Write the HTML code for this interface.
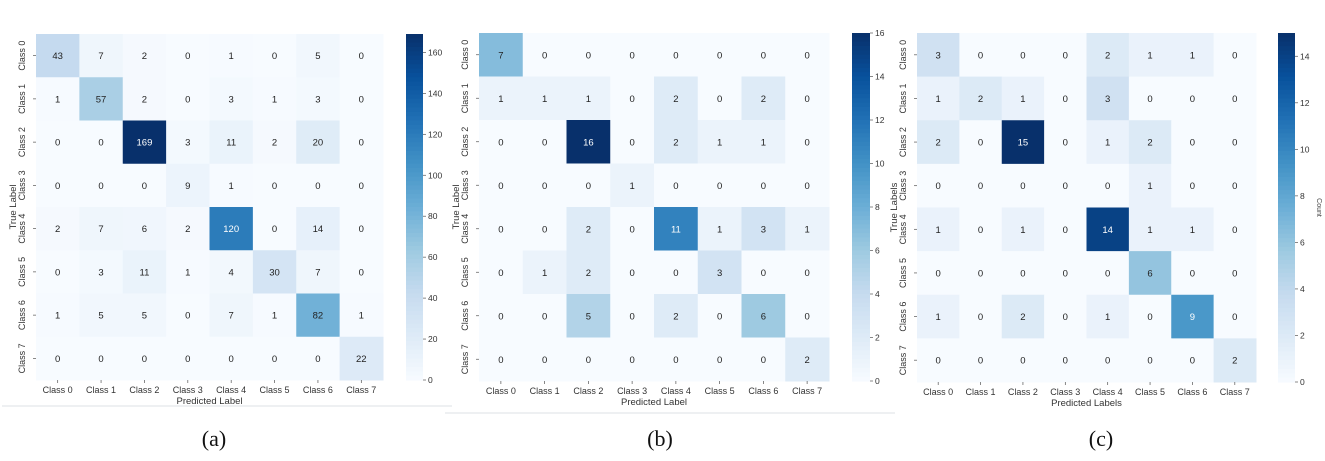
<!DOCTYPE html>
<html><head><meta charset="utf-8"><style>
body{margin:0;background:#fff;}
svg text{font-family:"Liberation Sans",sans-serif;}
svg text.cap{font-family:"Liberation Serif",serif;}
</style></head><body>
<svg id="fig" width="1325" height="456" viewBox="0 0 1325 456" xmlns="http://www.w3.org/2000/svg"></svg>
<script>
const classes=["Class 0","Class 1","Class 2","Class 3","Class 4","Class 5","Class 6","Class 7"];
const matrixA=[[43,7,2,0,1,0,5,0],[1,57,2,0,3,1,3,0],[0,0,169,3,11,2,20,0],[0,0,0,9,1,0,0,0],[2,7,6,2,120,0,14,0],[0,3,11,1,4,30,7,0],[1,5,5,0,7,1,82,1],[0,0,0,0,0,0,0,22]];
const matrixB=[[7,0,0,0,0,0,0,0],[1,1,1,0,2,0,2,0],[0,0,16,0,2,1,1,0],[0,0,0,1,0,0,0,0],[0,0,2,0,11,1,3,1],[0,1,2,0,0,3,0,0],[0,0,5,0,2,0,6,0],[0,0,0,0,0,0,0,2]];
const matrixC=[[3,0,0,0,2,1,1,0],[1,2,1,0,3,0,0,0],[2,0,15,0,1,2,0,0],[0,0,0,0,0,1,0,0],[1,0,1,0,14,1,1,0],[0,0,0,0,0,6,0,0],[1,0,2,0,1,0,9,0],[0,0,0,0,0,0,0,2]];
const ticksA=[0,20,40,60,80,100,120,140,160];
const ticksB=[0,2,4,6,8,10,12,14,16];
const ticksC=[0,2,4,6,8,10,12,14];
const NS="http://www.w3.org/2000/svg";
const svg=document.getElementById('fig');
const stops=["#f7fbff","#deebf7","#c6dbef","#9ecae1","#6baed6","#4292c6","#2171b5","#08519c","#08306b"];
function hx(c){return [parseInt(c.substr(1,2),16),parseInt(c.substr(3,2),16),parseInt(c.substr(5,2),16)];}
function blues(t){t=Math.max(0,Math.min(1,t));const p=t*(stops.length-1);const i=Math.min(Math.floor(p),stops.length-2);const f=p-i;const a=hx(stops[i]),b=hx(stops[i+1]);return `rgb(${a.map((v,k)=>Math.round(v+(b[k]-v)*f)).join(',')})`;}
function el(tag,attrs,parent){const e=document.createElementNS(NS,tag);for(const k in attrs)e.setAttribute(k,attrs[k]);(parent||svg).appendChild(e);return e;}
function txt(s,attrs,parent){const e=el('text',attrs,parent);e.textContent=s;return e;}
function panel(id,m,ticks,vmax,g){
  const grp=el('g',{});
  
  
  const n=classes.length,cw=(g.r-g.l)/n,ch=(g.b-g.t)/n;
  const xs=i=>g.l+i*cw, ys=j=>g.t+j*ch;
  for(let r=0;r<n;r++)for(let c=0;c<n;c++){
    const v=m[r][c];
    const rc=el('rect',{x:xs(c),y:ys(r),width:cw+0.5,height:ch+0.5,fill:blues(v/vmax)},grp);
    
    
    const t=txt(String(v),{x:xs(c)+cw/2,y:ys(r)+ch/2+3.5,'text-anchor':'middle','font-size':9.5,fill:v>vmax*0.5?'#fff':'#222'},grp);
    
    
  }
  for(let i=0;i<n;i++){
    const xl=txt(classes[i],{x:xs(i)+cw/2,y:g.b+13,'text-anchor':'middle','font-size':9,fill:'#333'},grp);
    
    
    el('line',{x1:xs(i)+cw/2,x2:xs(i)+cw/2,y1:g.b,y2:g.b+3,stroke:'#555','stroke-width':0.7},grp);
    const yy=ys(i)+ch/2, xx=g.l-11;
    const yl=txt(classes[i],{x:xx,y:yy,'text-anchor':'middle','font-size':9,fill:'#333',transform:`rotate(-90 ${xx} ${yy})`},grp);
    
    
    el('line',{x1:g.l-3,x2:g.l,y1:yy,y2:yy,stroke:'#555','stroke-width':0.7},grp);
  }
  const xt=txt(g.xlab,{x:(g.l+g.r)/2,y:g.b+24,'text-anchor':'middle','font-size':9.5,fill:'#333'},grp);
  
  
  const ty=(g.t+g.b)/2, tx=g.l-20;
  const yt=txt(g.ylab,{x:tx,y:ty,'text-anchor':'middle','font-size':9.5,fill:'#333',transform:`rotate(-90 ${tx} ${ty})`},grp);
  
  
  const steps=80,h=(g.b-g.t)/steps;
  const cb=el('g',{},grp);
  
  
  for(let k=0;k<steps;k++)el('rect',{x:g.cx,y:g.t+k*h,width:g.cwid,height:h+0.5,fill:blues(1-(k+0.5)/steps)},cb);
  const cy=v=>g.b-(v/vmax)*(g.b-g.t);
  ticks.forEach(v=>{
    el('line',{x1:g.cx+g.cwid,x2:g.cx+g.cwid+3,y1:cy(v),y2:cy(v),stroke:'#555','stroke-width':0.7},cb);
    const tl=txt(String(v),{x:g.cx+g.cwid+5,y:cy(v)+3,'font-size':8.5,fill:'#333'},cb);
    
    
  });
  if(g.clab){const x=g.cx+g.cwid+22,y=(g.t+g.b)/2;
    const cl=txt(g.clab,{x:x,y:y,'text-anchor':'middle','font-size':7,fill:'#444',transform:`rotate(90 ${x} ${y})`},cb);
    
    }
  const cap=txt('('+id+')',{x:g.cap,y:446,'text-anchor':'middle','font-size':22,fill:'#111','class':'cap'},grp);
  
  
}
el('rect',{x:2,y:405,width:450,height:2,fill:'#eef0f2'});
el('rect',{x:445,y:412,width:450,height:2,fill:'#eef0f2'});
panel('a',matrixA,ticksA,169,{l:36,r:383,t:34,b:380,cx:406,cwid:17,cap:214,xlab:'Predicted Label',ylab:'True Label'});
panel('b',matrixB,ticksB,16,{l:479,r:829,t:33,b:381,cx:852,cwid:18,cap:660,xlab:'Predicted Label',ylab:'True Label'});
panel('c',matrixC,ticksC,15,{l:917,r:1256,t:33,b:382,cx:1278,cwid:17,cap:1101,xlab:'Predicted Labels',ylab:'True Labels',clab:'Count'});
</script>
</body></html>
